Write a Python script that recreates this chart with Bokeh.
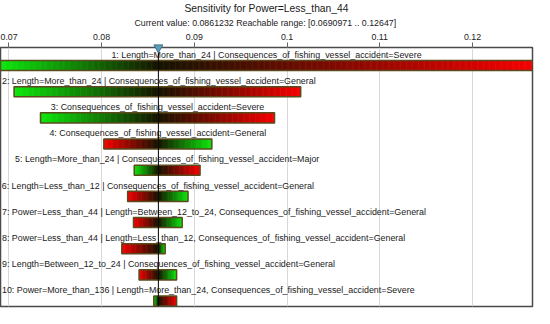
from bokeh.plotting import figure
from bokeh.models import Range1d, FixedTicker, Span, Title
from bokeh.embed import file_html
from bokeh.resources import INLINE
from bokeh.core.properties import value

# ---------------- data ----------------
title_text = "Sensitivity for Power=Less_than_44"
subtitle_text = "Current value: 0.0861232  Reachable range: [0.0690971 .. 0.12647]"
current_value = 0.0861232
reach_min = 0.0690971
reach_max = 0.12647

row_labels = [
    "1: Length=More_than_24 | Consequences_of_fishing_vessel_accident=Severe",
    "2: Length=More_than_24 | Consequences_of_fishing_vessel_accident=General",
    "3: Consequences_of_fishing_vessel_accident=Severe",
    "4: Consequences_of_fishing_vessel_accident=General",
    "5: Length=More_than_24 | Consequences_of_fishing_vessel_accident=Major",
    "6: Length=Less_than_12 | Consequences_of_fishing_vessel_accident=General",
    "7: Power=Less_than_44 | Length=Between_12_to_24, Consequences_of_fishing_vessel_accident=General",
    "8: Power=Less_than_44 | Length=Less_than_12, Consequences_of_fishing_vessel_accident=General",
    "9: Length=Between_12_to_24 | Consequences_of_fishing_vessel_accident=General",
    "10: Power=More_than_136 | Length=More_than_24, Consequences_of_fishing_vessel_accident=Severe",
]
bar_low = [0.0690971, 0.07056, 0.07341, 0.08024, 0.08352, 0.08281, 0.08344, 0.08218, 0.08404, 0.08563]
bar_high = [0.12647, 0.10147, 0.09865, 0.09189, 0.09062, 0.08932, 0.08869, 0.08686, 0.08809, 0.08809]
low_end_colour = ["green", "green", "green", "red", "green", "red", "red", "red", "red", "green"]

tick_values = [0.07, 0.08, 0.09, 0.10, 0.11, 0.12]
tick_labels = ["0.07", "0.08", "0.09", "0.1", "0.11", "0.12"]

# ---------------- styling / layout ----------------
FONT = "Liberation Sans"
LABEL_SIZE = 8.9
FIG_W, FIG_H = 534, 308
MB_L, MB_R = 0, 2
frame_w = FIG_W - MB_L - MB_R
ppu = frame_w / (reach_max - reach_min)

GREEN = (12, 232, 12)
RED = (246, 0, 0)
DARK = (22, 20, 0)

def mix(a, b, t):
    return "#%02x%02x%02x" % tuple(int(round(a[i] + (b[i] - a[i]) * t)) for i in range(3))

# Arial-like advance widths for estimating label width
W = {' ': 278, '|': 260, '_': 556, '=': 584, ':': 278, ',': 278, '.': 278,
     'i': 222, 'l': 222, 'f': 278, 't': 278, 'r': 333, 'c': 500, 's': 500, 'v': 500,
     'y': 500, 'w': 722, 'm': 833, 'C': 722, 'L': 556, 'M': 833, 'P': 667, 'S': 667,
     'G': 778, 'B': 667}

def text_px(s, size):
    return sum(W.get(c, 556) for c in s) / 1000.0 * size

p = figure(width=FIG_W, height=FIG_H,
           x_range=Range1d(reach_min, reach_max), y_range=Range1d(9.21, -0.69),
           x_axis_location="above", y_axis_location=None,
           output_backend="svg", toolbar_location=None, title=None,
           min_border_left=MB_L, min_border_right=MB_R, min_border_top=0, min_border_bottom=2)
p.background_fill_color = "white"
p.border_fill_color = "white"
p.outline_line_color = "#4a4a4a"
p.outline_line_width = 1.5

p.xaxis.ticker = FixedTicker(ticks=tick_values)
p.xaxis.major_label_overrides = {v: l for v, l in zip(tick_values, tick_labels)}
p.xaxis.axis_line_color = None
p.xaxis.major_tick_in = 0
p.xaxis.major_tick_out = 5
p.xaxis.major_tick_line_color = "#666666"
p.xaxis.minor_tick_line_color = None
p.xaxis.major_label_text_font = FONT
p.xaxis.major_label_text_font_size = "8.8px"
p.xaxis.major_label_text_color = "#222222"
p.xaxis.major_label_standoff = 3
p.xgrid.ticker = FixedTicker(ticks=tick_values)
p.xgrid.grid_line_color = "#d8d8d8"
p.ygrid.visible = False

sub = Title(text=subtitle_text, align="center", text_font=FONT, text_font_size="8.8px",
            text_font_style="normal", text_color="#1a1a1a", standoff=5, offset=0)
p.add_layout(sub, "above")
main = Title(text=title_text, align="center", text_font=FONT, text_font_size="10.3px",
             text_font_style="normal", text_color="#1a1a1a", standoff=0, offset=0)
p.add_layout(main, "above")

# ---------------- gradient bars ----------------
BAR_H = 0.385
step = 1.2 / ppu
L, R, T, B, C = [], [], [], [], []
for i, (lo, hi, lc) in enumerate(zip(bar_low, bar_high, low_end_colour)):
    lo_col = GREEN if lc == "green" else RED
    hi_col = RED if lc == "green" else GREEN
    for a, b, col, end in ((lo, current_value, lo_col, lo), (current_value, hi, hi_col, hi)):
        if b <= a:
            continue
        n = max(1, int((b - a) / step))
        w = (b - a) / n
        for k in range(n):
            x0 = a + k * w
            x1 = x0 + w
            xm = (x0 + x1) / 2
            t = abs(xm - current_value) / abs(end - current_value)
            L.append(x0)
            R.append(min(x1 + 0.6 / ppu, b))
            T.append(i - BAR_H / 2)
            B.append(i + BAR_H / 2)
            C.append(mix(DARK, col, t))

p.quad(left=L, right=R, top=T, bottom=B, fill_color=C, line_color=None)
p.quad(left=bar_low, right=bar_high,
       top=[i - BAR_H / 2 for i in range(len(bar_low))],
       bottom=[i + BAR_H / 2 for i in range(len(bar_low))],
       fill_color=None, line_color="#5a4a1c", line_width=1.5)

# current value line and marker
p.add_layout(Span(location=current_value, dimension="height", line_color="black", line_width=1))
p.scatter(x=[current_value], y=[-0.69], marker="inverted_triangle", size=9,
          fill_color="#5d9fba", line_color="#3d6f86", level="overlay")

# ---------------- labels ----------------
pad = 1.5 / ppu
cx, cy, ct, lx, ly, lt = [], [], [], [], [], []
for i, (lab, lo, hi) in enumerate(zip(row_labels, bar_low, bar_high)):
    ctr = (lo + hi) / 2
    half = text_px(lab, LABEL_SIZE) / 2 / ppu
    yy = i - 0.41
    if ctr - half < reach_min:
        lx.append(reach_min + pad); ly.append(yy); lt.append(lab)
    else:
        cx.append(ctr); cy.append(yy); ct.append(lab)

p.text(x=cx, y=cy, text=ct, text_align="center", text_baseline="middle",
       text_font=value(FONT), text_font_size=value(f"{LABEL_SIZE}px"), text_color="#1a1a1a")
p.text(x=lx, y=ly, text=lt, text_align="left", text_baseline="middle",
       text_font=value(FONT), text_font_size=value(f"{LABEL_SIZE}px"), text_color="#1a1a1a")

open("out.html", "w").write(file_html(p, INLINE))
